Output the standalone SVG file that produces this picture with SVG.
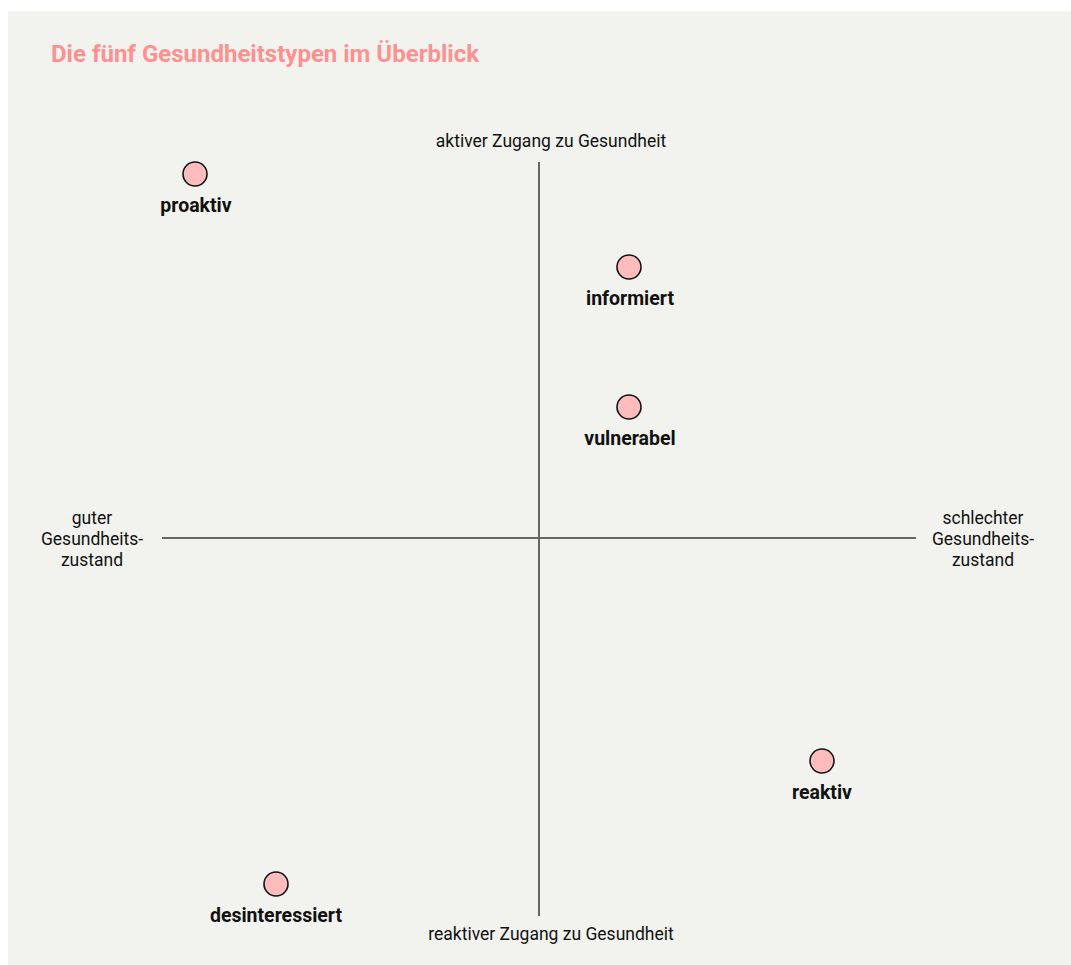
<svg xmlns="http://www.w3.org/2000/svg" width="1071" height="965" viewBox="0 0 1071 965">
<style>
.bg{fill:#f2f3ef}
.axis{stroke:#666;stroke-width:2;fill:none}
.dot{fill:#ffbcbc;stroke:#111;stroke-width:1.6}
.lbl{font-family:Roboto,"Liberation Sans",sans-serif;font-weight:700;font-size:19.5px;fill:#111;text-anchor:middle}
.ax{font-family:Roboto,"Liberation Sans",sans-serif;font-size:17.5px;fill:#111;text-anchor:middle}
.title{font-family:Roboto,"Liberation Sans",sans-serif;font-weight:700;font-size:24px;fill:#ff9090}
</style>
<rect x="0" y="0" width="1071" height="965" fill="#ffffff"/>
<rect class="bg" x="8" y="11" width="1063" height="954"/>
<text class="title" x="51" y="62">Die fünf Gesundheitstypen im Überblick</text>
<g id="connectors">
<line class="axis" x1="539" y1="162" x2="539" y2="916"/>
<line class="axis" x1="162" y1="538" x2="916" y2="538"/>
</g>
<g id="axis-top"><text class="ax" x="551" y="147">aktiver Zugang zu Gesundheit</text></g>
<g id="axis-bottom"><text class="ax" x="551" y="940">reaktiver Zugang zu Gesundheit</text></g>
<g id="axis-left"><text class="ax" x="92" y="524">guter</text><text class="ax" x="92" y="545">Gesundheits-</text><text class="ax" x="92" y="566">zustand</text></g>
<g id="axis-right"><text class="ax" x="983" y="524">schlechter</text><text class="ax" x="983" y="545">Gesundheits-</text><text class="ax" x="983" y="566">zustand</text></g>
<g id="proaktiv"><circle class="dot" cx="195" cy="174" r="12"/><text class="lbl" x="196" y="212">proaktiv</text></g>
<g id="informiert"><circle class="dot" cx="629" cy="267" r="12"/><text class="lbl" x="630" y="305">informiert</text></g>
<g id="vulnerabel"><circle class="dot" cx="629" cy="407" r="12"/><text class="lbl" x="630" y="445">vulnerabel</text></g>
<g id="reaktiv"><circle class="dot" cx="822" cy="761" r="12"/><text class="lbl" x="822" y="799">reaktiv</text></g>
<g id="desinteressiert"><circle class="dot" cx="276" cy="884" r="12"/><text class="lbl" x="276" y="922">desinteressiert</text></g>
</svg>
